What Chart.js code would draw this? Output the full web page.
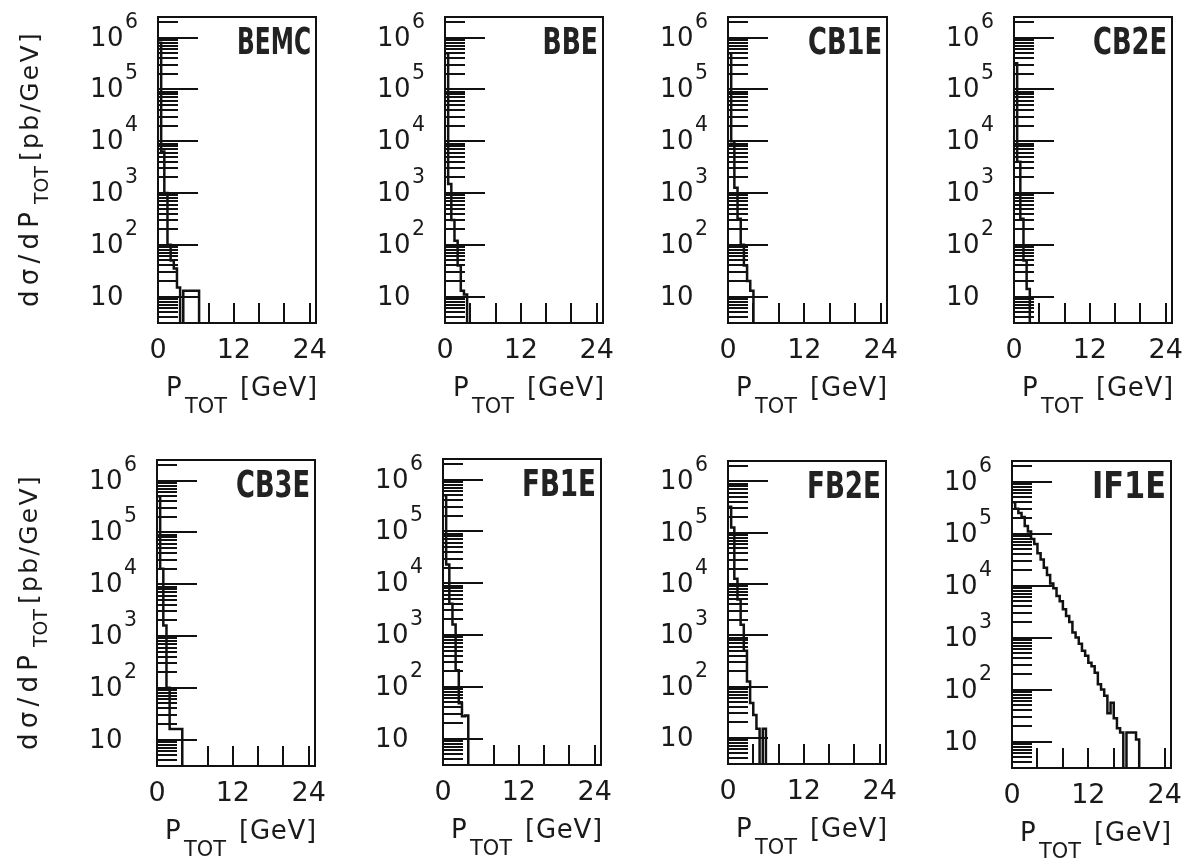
<!DOCTYPE html>
<html>
<head>
<meta charset="utf-8">
<script src="https://cdn.jsdelivr.net/npm/chart.js@4.4.1/dist/chart.umd.min.js"></script>
<style>
  body { margin: 0; background: #fff; width: 1186px; height: 863px; overflow: hidden; position: relative; }
  canvas { position: absolute; }
</style>
</head>
<body>
<script>
// bin edges in GeV (0.5 GeV bins)
const binEdges = [0, 0.5, 1, 1.5, 2, 2.5, 3, 3.5, 4, 4.5, 5, 5.5, 6, 6.5, 7, 7.5, 8, 8.5, 9, 9.5,
  10, 10.5, 11, 11.5, 12, 12.5, 13, 13.5, 14, 14.5, 15, 15.5, 16, 16.5, 17, 17.5, 18, 18.5, 19, 19.5, 20];

// dsigma/dP_TOT [pb/GeV] per bin, 0 = empty bin
const bemc = [8e5, 6300, 1000, 100, 50, 35, 15, 0, 13, 13, 13, 13, 13];
const bbe  = [5e5, 1500, 300, 120, 40, 13, 11];
const cb1e = [5e5, 1e4, 1260, 320, 100, 40, 20, 13];
const cb2e = [3.2e5, 4000, 320, 50, 14];
const cb3e = [5e5, 2e4, 1600, 100, 16, 16, 16, 16];
const fb1e = [5e5, 2.3e4, 4000, 1600, 210, 48, 27, 28];
const fb2e = [3.2e5, 1.26e5, 1.26e4, 5000, 1600, 500, 126, 48, 28, 15, 0, 15];
const if1e = [4.0e5, 3.0e5, 2.5e5, 2.1e5, 1.4e5, 1.1e5, 7.9e4, 6.3e4, 4.2e4, 3.2e4,
  2.2e4, 1.6e4, 1.1e4, 8900, 6300, 5000, 3500, 2600, 2000, 1260,
  1000, 760, 560, 450, 330, 280, 210, 126, 100, 76,
  35, 56, 28, 18, 15, 0, 15, 15, 15, 11];

const names = ["BEMC", "BBE", "CB1E", "CB2E", "CB3E", "FB1E", "FB2E", "IF1E"];
const series = [bemc, bbe, cb1e, cb2e, cb3e, fb1e, fb2e, if1e];

// axis ticks
const yMajor = [10, 100, 1000, 10000, 100000, 1000000];
const yExp = ["", "2", "3", "4", "5", "6"];
const yDecades = [1, 10, 100, 1000, 10000, 100000, 1000000];
const xTicks = [4, 8, 12, 16, 20, 24];
const xLabels = [0, 12, 24];

// plot frames on the page: left, top, right, bottom
const boxes = [
  [158, 17, 316, 323], [445, 17, 603, 323], [728, 17, 887, 323], [1014, 17, 1172, 323],
  [157, 460, 315, 766], [443, 459, 601, 765], [728, 461, 886, 764], [1012, 461, 1171, 768],
];

const EMPTY = 1; // below the axis floor
const INK = "#111";
const FONT = '"DejaVu Sans", sans-serif';

// text fitted to a given width: spread letters if too short, squeeze if too long
const txt = (ctx, s, x, y, font, w) => {
  ctx.font = font;
  ctx.letterSpacing = "0px";
  const m = ctx.measureText(s).width;
  ctx.save();
  ctx.translate(x, y);
  if (w && w > m && "letterSpacing" in ctx) {
    ctx.letterSpacing = ((w - m) / s.length).toFixed(2) + "px";
  } else if (w) {
    ctx.scale(w / m, 1);
  }
  ctx.fillText(s, 0, 0);
  ctx.restore();
};

const line = (ctx, x1, y1, x2, y2) => {
  ctx.beginPath();
  ctx.moveTo(x1, y1);
  ctx.lineTo(x2, y2);
  ctx.stroke();
};

const framePlugin = {
  id: "frame",
  afterDatasetsDraw(chart, args, opts) {
    const { ctx, chartArea: a } = chart;
    const x = chart.scales.x, y = chart.scales.y;
    ctx.save();
    ctx.strokeStyle = INK;
    ctx.fillStyle = "#1a1a1a";
    ctx.lineWidth = 2;
    ctx.textAlign = "left";

    // inward ticks on the log axis
    yDecades.forEach((d) => {
      for (let k = 2; k <= 9; k++) {
        const v = d * k;
        if (v < y.min || v > y.max) continue;
        const py = Math.round(y.getPixelForValue(v));
        line(ctx, a.left, py, a.left + 20, py);
      }
    });
    yMajor.forEach((v, i) => {
      const py = Math.round(y.getPixelForValue(v));
      line(ctx, a.left, py, a.left + 40, py);
      txt(ctx, "10", a.left - 68, py + 8, "26px " + FONT, 34);
      if (yExp[i]) txt(ctx, yExp[i], a.left - 33, py - 10, "21px " + FONT, 13);
    });

    xTicks.forEach((v) => {
      const px = Math.round(x.getPixelForValue(v));
      line(ctx, px, a.bottom, px, a.bottom - 20);
    });
    xLabels.forEach((v) => {
      const s = String(v);
      ctx.font = "27px " + FONT;
      ctx.letterSpacing = "0px";
      const w = ctx.measureText(s).width;
      txt(ctx, s, x.getPixelForValue(v) - w / 2, a.bottom + 35, "27px " + FONT);
    });

    ctx.strokeRect(a.left, a.top, a.right - a.left, a.bottom - a.top);

    // x title
    txt(ctx, "P", a.left + 8, a.bottom + 73, "26px " + FONT, 16);
    txt(ctx, "TOT", a.left + 27, a.bottom + 90, "21px " + FONT, 42);
    txt(ctx, "[GeV]", a.left + 82, a.bottom + 73, "26px " + FONT, 78);

    // panel name
    const nw = opts.name.length * 18.5;
    ctx.fillStyle = "#222";
    txt(ctx, opts.name, a.right - 5 - nw, a.top + 37,
      'bold 38px "Liberation Sans Narrow", "DejaVu Sans Condensed", sans-serif', nw);

    // y title on the first column
    if (opts.yTitle) {
      ctx.fillStyle = "#1a1a1a";
      ctx.save();
      ctx.translate(a.left - 120, a.bottom - 16);
      ctx.rotate(-Math.PI / 2);
      txt(ctx, "dσ/dP", 0, 0, "26px " + FONT, 100);
      txt(ctx, "TOT", 103, 10, "20px " + FONT, 38);
      txt(ctx, "[pb/GeV]", 146, 0, "25px " + FONT, 130);
      ctx.restore();
    }
    ctx.restore();
  },
};

names.forEach((name, i) => {
  const [l, t, r, b] = boxes[i];
  const cv = document.createElement("canvas");
  const padL = 150, padR = 15, padT = 17, padB = 97;
  cv.width = (r - l) + padL + padR;
  cv.height = (b - t) + padT + padB;
  cv.style.left = (l - padL) + "px";
  cv.style.top = (t - padT) + "px";
  document.body.appendChild(cv);

  const vals = series[i];
  const pts = vals.map((v, j) => ({ x: binEdges[j], y: v > 0 ? v : EMPTY }));
  pts.push({ x: binEdges[vals.length], y: EMPTY });

  new Chart(cv.getContext("2d"), {
    type: "line",
    data: {
      datasets: [{
        data: pts,
        stepped: true,
        borderColor: INK,
        borderWidth: 2.5,
        pointRadius: 0,
        fill: false,
        clip: 0,
      }],
    },
    options: {
      responsive: false,
      animation: false,
      devicePixelRatio: 1,
      layout: { padding: { left: padL, right: padR, top: padT, bottom: padB } },
      plugins: {
        legend: { display: false },
        tooltip: { enabled: false },
        frame: { name: name, yTitle: i % 4 === 0 },
      },
      scales: {
        x: { type: "linear", min: 0, max: 25, display: false },
        y: { type: "logarithmic", min: 3.1, max: 2.5e6, display: false },
      },
    },
    plugins: [framePlugin],
  });
});
</script>
</body>
</html>
